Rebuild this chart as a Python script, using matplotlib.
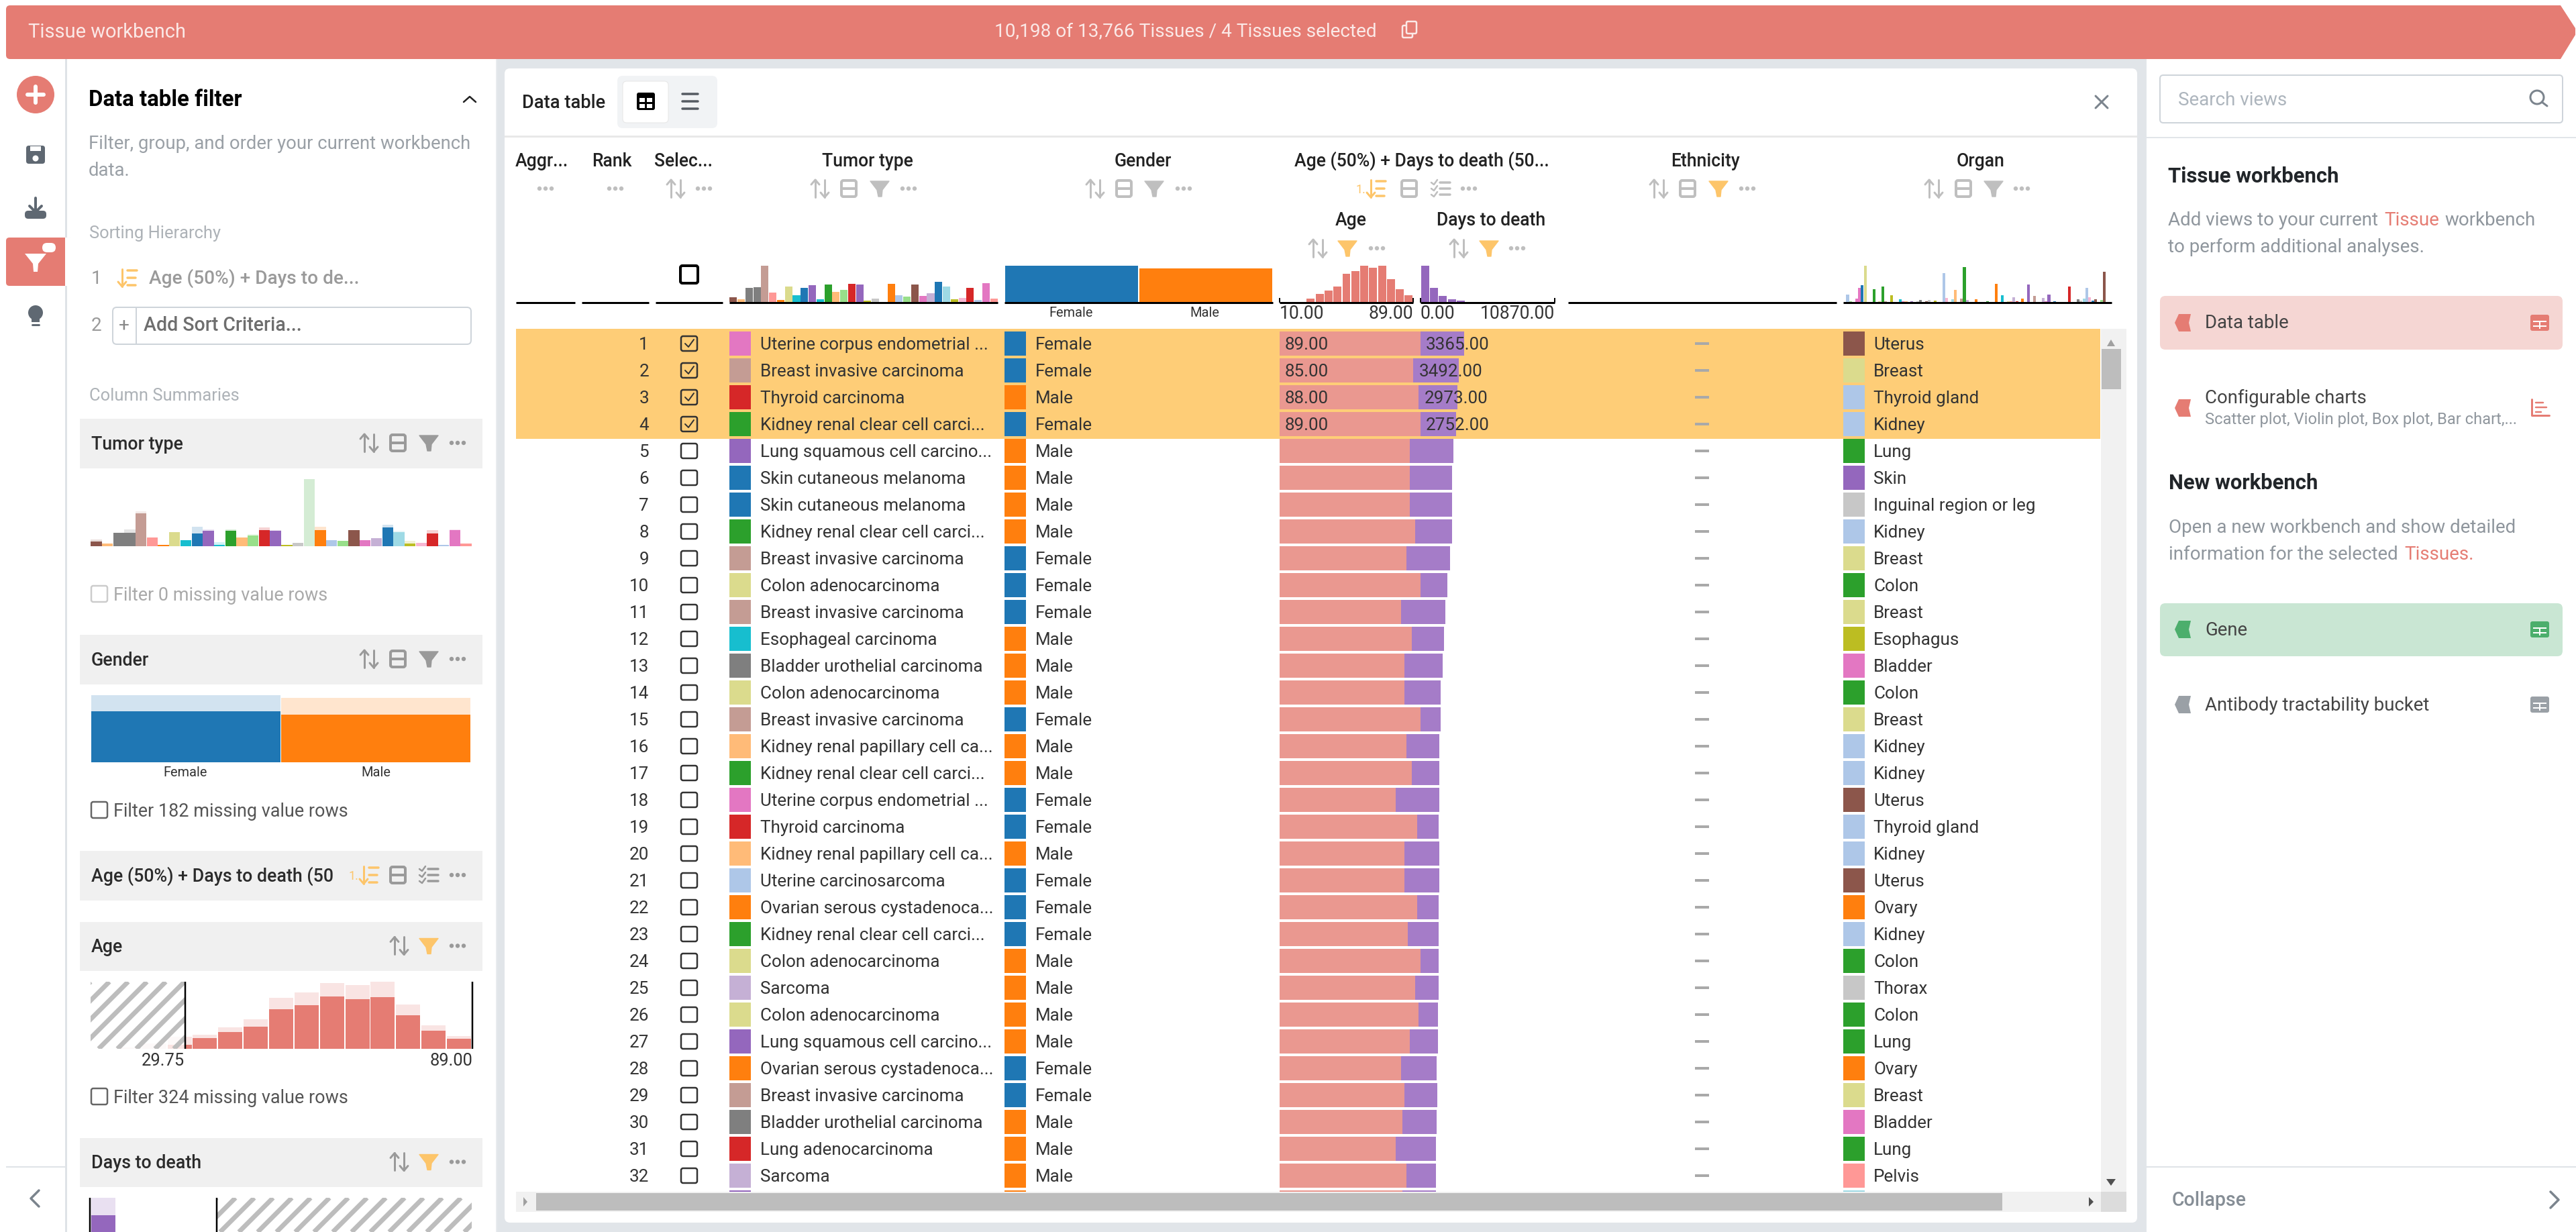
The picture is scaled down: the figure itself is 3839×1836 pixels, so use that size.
"""Tissue workbench screenshot rebuilt with matplotlib, laid out in screen pixels."""

import matplotlib

matplotlib.use("Agg")
import matplotlib.pyplot as plt
from matplotlib.patches import Circle, FancyBboxPatch, Polygon, Rectangle

W, H = 3839, 1836
plt.rcParams["font.family"] = ["Roboto", "DejaVu Sans"]

CORAL = "#e57c73"
GAP = "#e1e5e9"
HEAD = "#f0f0f0"
ORANGE = "#fecd77"
ICON_LIGHT = "#bfbfbf"
ICON_DARK = "#9a9a9a"

# tumor type histogram, shared bin colours
TUMOR_BIN_COLORS = [
    "#8c564b", "#ffbb78", "#7f7f7f", "#7f7f7f", "#c49c94", "#ff9896", "#ff7f0e", "#dbdb8d", "#17becf",
    "#1f77b4", "#9467bd", "#17becf", "#2ca02c", "#ffbb78", "#98df8a", "#d62728", "#9467bd", "#bcbd22",
    "#c7c7c7", "#2ca02c", "#ff7f0e", "#aec7e8", "#98df8a", "#8c564b", "#e377c2", "#c5b0d5", "#1f77b4",
    "#9edae5", "#bcbd22", "#f7b6d2", "#d62728", "#aec7e8", "#e377c2", "#ff9896",
]
TUMOR_TABLE = [20, 11, 59, 62, 151, 39, 8, 64, 28, 59, 70, 11, 73, 43, 50, 76, 73, 6, 14, 0, 76, 28, 22, 73, 25,
               36, 84, 64, 11, 17, 59, 8, 78, 14]
TUMOR_SIDE_MAIN = [12, 6, 34, 34, 83, 22, 3, 35, 15, 32, 39, 4, 39, 22, 27, 41, 39, 3, 8, 0, 41, 15, 13, 41, 15,
                   20, 47, 35, 6, 8, 32, 4, 41, 6]
TUMOR_SIDE_ALL = [17, 6, 34, 42, 89, 22, 3, 35, 15, 49, 42, 10, 42, 22, 30, 47, 41, 3, 8, 170, 49, 15, 13, 41, 15,
                  20, 54, 39, 14, 8, 41, 4, 43, 6]

GENDER_LABELS = ["Female", "Male"]
GENDER_COLORS = ["#1f77b4", "#ff7f0e"]
GENDER_TABLE = [54, 50]
GENDER_SIDE_MAIN = [76, 71]
GENDER_SIDE_ALL = [100, 96]

AGE_SIDE_MAIN = [0, 0, 0, 11, 28, 43, 57, 101, 112, 134, 127, 132, 86, 47, 26]
AGE_SIDE_ALL = [0, 4, 13, 31, 36, 55, 76, 130, 144, 168, 163, 171, 113, 60, 33]
AGE_TABLE = [0, 0, 0, 14, 34, 48, 64, 118, 129, 151, 143, 151, 96, 53, 28]
DAYS_TABLE = [151, 59, 25, 11, 6, 0, 0, 0, 0, 0, 0, 0, 0, 0, 0]
DAYS_SIDE_MAIN = [74, 28, 10, 5, 2, 0, 0, 0, 0, 0, 0, 0, 0, 0, 0]
DAYS_SIDE_ALL = [100, 40, 15, 7, 3, 0, 0, 0, 0, 0, 0, 0, 0, 0, 0]

# organ histogram: sparse bins out of 92
ORGAN_BINS = [1, 2, 4, 5, 6, 7, 10, 12, 13, 14, 16, 19, 20, 21, 23, 25, 26, 28, 29, 31, 34, 35, 37, 38, 40, 41, 42,
              45, 49, 52, 54, 56, 57, 58, 59, 61, 63, 65, 68, 69, 70, 72, 77, 80, 81, 82, 83, 84, 85, 86, 88, 89]
ORGAN_COUNTS = [33, 3, 15, 63, 75, 162, 57, 3, 69, 3, 30, 12, 3, 3, 3, 3, 9, 3, 9, 6, 129, 18, 12, 54, 15, 156, 9,
                12, 3, 81, 30, 3, 3, 21, 3, 15, 78, 27, 18, 3, 33, 3, 69, 12, 6, 15, 63, 21, 6, 12, 9, 135]
ORGAN_BIN_COLORS = [
    "#aec7e8", "#98df8a", "#e377c2", "#e377c2", "#1f77b4", "#dbdb8d", "#2ca02c", "#dbdb8d", "#2ca02c", "#c49c94",
    "#bcbd22", "#17becf", "#e377c2", "#ffbb78", "#9467bd", "#c7c7c7", "#7f7f7f", "#8c564b", "#c7c7c7", "#bcbd22",
    "#aec7e8", "#f7b6d2", "#9edae5", "#ffbb78", "#c49c94", "#2ca02c", "#c5b0d5", "#ff7f0e", "#2ca02c", "#ff7f0e",
    "#17becf", "#dbdb8d", "#ff9896", "#c5b0d5", "#d62728", "#ff7f0e", "#9467bd", "#c49c94", "#c5b0d5", "#e377c2",
    "#9467bd", "#1f77b4", "#d62728", "#7f7f7f", "#c7c7c7", "#9edae5", "#aec7e8", "#f7b6d2", "#1f77b4", "#8c564b",
    "#98df8a", "#8c564b",
]

# table rows
TUMOR_COLORS = {
    "Uterine corpus endometrial ...": "#e377c2", "Breast invasive carcinoma": "#c49c94",
    "Thyroid carcinoma": "#d62728", "Kidney renal clear cell carci...": "#2ca02c",
    "Lung squamous cell carcino...": "#9467bd", "Skin cutaneous melanoma": "#1f77b4",
    "Colon adenocarcinoma": "#dbdb8d", "Esophageal carcinoma": "#17becf",
    "Bladder urothelial carcinoma": "#7f7f7f", "Kidney renal papillary cell ca...": "#ffbb78",
    "Uterine carcinosarcoma": "#aec7e8", "Ovarian serous cystadenoca...": "#ff7f0e",
    "Sarcoma": "#c5b0d5", "Lung adenocarcinoma": "#d62728",
}
ORGAN_COLORS = {
    "Uterus": "#8c564b", "Breast": "#dbdb8d", "Thyroid gland": "#aec7e8", "Kidney": "#aec7e8", "Lung": "#2ca02c",
    "Skin": "#9467bd", "Inguinal region or leg": "#c7c7c7", "Colon": "#2ca02c", "Esophagus": "#bcbd22",
    "Bladder": "#e377c2", "Ovary": "#ff7f0e", "Thorax": "#c7c7c7", "Pelvis": "#ff9896",
}
TUMORS = [
    "Uterine corpus endometrial ...", "Breast invasive carcinoma", "Thyroid carcinoma",
    "Kidney renal clear cell carci...", "Lung squamous cell carcino...", "Skin cutaneous melanoma",
    "Skin cutaneous melanoma", "Kidney renal clear cell carci...", "Breast invasive carcinoma",
    "Colon adenocarcinoma", "Breast invasive carcinoma", "Esophageal carcinoma", "Bladder urothelial carcinoma",
    "Colon adenocarcinoma", "Breast invasive carcinoma", "Kidney renal papillary cell ca...",
    "Kidney renal clear cell carci...", "Uterine corpus endometrial ...", "Thyroid carcinoma",
    "Kidney renal papillary cell ca...", "Uterine carcinosarcoma", "Ovarian serous cystadenoca...",
    "Kidney renal clear cell carci...", "Colon adenocarcinoma", "Sarcoma", "Colon adenocarcinoma",
    "Lung squamous cell carcino...", "Ovarian serous cystadenoca...", "Breast invasive carcinoma",
    "Bladder urothelial carcinoma", "Lung adenocarcinoma", "Sarcoma", "Lung squamous cell carcino...",
]
GENDERS = ["Female", "Female", "Male", "Female", "Male", "Male", "Male", "Male", "Female", "Female", "Female",
           "Male", "Male", "Male", "Female", "Male", "Male", "Female", "Female", "Male", "Female", "Female",
           "Female", "Male", "Male", "Male", "Male", "Female", "Female", "Male", "Male", "Male", "Male"]
AGES = [89, 85, 88, 89, 83, 83, 83, 86, 81, 89, 78, 84, 80, 80, 89, 81, 84, 75, 87, 80, 80, 87, 82, 89, 86, 88, 83,
        78, 80, 79, 75, 81, 79]
DAYS = [3365, 3492, 2973, 2752, 3364, 3261, 3261, 2847, 3364, 2070, 3416, 2485, 2950, 2795, 1553, 2536, 2122, 3364,
        1656, 2692, 2692, 1656, 2381, 1398, 1812, 1501, 2174, 2743, 2536, 2640, 3106, 2278, 2588]
ORGANS = ["Uterus", "Breast", "Thyroid gland", "Kidney", "Lung", "Skin", "Inguinal region or leg", "Kidney", "Breast",
          "Colon", "Breast", "Esophagus", "Bladder", "Colon", "Breast", "Kidney", "Kidney", "Uterus", "Thyroid gland",
          "Kidney", "Uterus", "Ovary", "Kidney", "Colon", "Thorax", "Colon", "Lung", "Ovary", "Breast", "Bladder",
          "Lung", "Pelvis", "Skin"]
ORGAN_ROW_33_COLOR = "#9edae5"
SELECTED_ROWS = 4
AGE_MIN, AGE_MAX, DAYS_MAX = 10, 89, 10870

fig = plt.figure(figsize=(W / 100, (H + 0.01) / 100), dpi=100, facecolor="white")


def px_axes(x0, y0, x1, y1, zorder=2):
    ax = fig.add_axes([x0 / W, 1 - y1 / H, (x1 - x0) / W, (y1 - y0) / H], zorder=zorder)
    ax.axis("off")
    return ax


bg = px_axes(0, 0, W, H, zorder=0)
bg.set_xlim(0, W)
bg.set_ylim(H, 0)
fg = px_axes(0, 0, W, H, zorder=5)
fg.set_xlim(0, W)
fg.set_ylim(H, 0)


def txt(x, y, s, size, color="#333333", weight="normal", ha="left", ax=fg):
    # +2: va="center" sits a little above the css line centre
    return ax.text(x, y + 2, s, fontsize=size * 0.72, color=color, fontweight=weight, ha=ha, va="center")


def rect(ax, x0, y0, x1, y1, fc, ec="none", lw=0, z=1):
    ax.add_patch(Rectangle((x0, y0), x1 - x0, y1 - y0, fc=fc, ec=ec, lw=lw * 0.72, zorder=z))


def rrect(ax, x0, y0, x1, y1, r, fc="none", ec="none", lw=0, z=1):
    ax.add_patch(FancyBboxPatch((x0 + r, y0 + r), x1 - x0 - 2 * r, y1 - y0 - 2 * r, boxstyle=f"round,pad={r}",
                                fc=fc, ec=ec, lw=lw * 0.72, zorder=z))


def line(ax, xs, ys, color, lw=3, z=3, cap="round"):
    ax.plot(xs, ys, color=color, lw=lw * 0.72, zorder=z, solid_capstyle=cap, solid_joinstyle="round")


def dots_icon(x, y, color=ICON_LIGHT, ax=fg):
    for dx in (-9, 0, 9):
        ax.add_patch(Circle((x + dx, y), 3.2, fc=color, ec="none", zorder=3))


def sort_icon(x, y, color=ICON_LIGHT, ax=fg):
    line(ax, [x - 7, x - 7], [y - 13, y + 13], color)
    line(ax, [x - 13, x - 7, x - 1], [y - 6, y - 13, y - 6], color)
    line(ax, [x + 7, x + 7], [y - 13, y + 13], color)
    line(ax, [x + 1, x + 7, x + 13], [y + 6, y + 13, y + 6], color)


def layout_icon(x, y, color=ICON_LIGHT, ax=fg):
    rrect(ax, x - 11, y - 12, x + 11, y + 12, 3, ec=color, lw=4, z=3)
    line(ax, [x - 11, x + 11], [y, y], color, lw=4)


def funnel_icon(x, y, color=ICON_LIGHT, ax=fg):
    ax.add_patch(Polygon([(x - 14, y - 11), (x + 14, y - 11), (x + 4, y + 2), (x + 3, y + 12), (x - 2, y + 12),
                          (x - 4, y + 2)], fc=color, ec=color, lw=1, joinstyle="round", zorder=3))


def checklist_icon(x, y, color=ICON_LIGHT, ax=fg):
    for dy in (-9, 0, 9):
        line(ax, [x - 1, x + 14], [y + dy, y + dy], color, lw=3.5)
        line(ax, [x - 14, x - 10, x - 5], [y + dy, y + dy + 3, y + dy - 4], color, lw=2.5)


def sorted_icon(x, y, color="#fdc56a", ax=fg, prefix=False):
    line(ax, [x - 7, x - 7], [y - 13, y + 13], color)
    line(ax, [x - 13, x - 7, x - 1], [y + 6, y + 13, y + 6], color)
    line(ax, [x + 1, x + 15], [y - 11, y - 11], color, lw=3.5)
    line(ax, [x + 1, x + 13], [y, y], color, lw=3.5)
    line(ax, [x + 1, x + 13], [y + 11, y + 11], color, lw=3.5)
    if prefix:
        txt(x - 15, y, "1.", 18, color, ha="right", ax=ax)


def tag_icon(x, y, color):
    fg.add_patch(Polygon([(x + 12, y - 13), (x - 6, y - 13), (x - 12, y), (x - 6, y + 13), (x + 12, y + 13),
                          (x + 9, y)], fc=color, ec="none", zorder=3))


def grid_icon(x, y, color):
    rrect(fg, x - 14, y - 12, x + 14, y + 12, 3, fc=color, z=3)
    line(fg, [x - 10, x + 10], [y - 2, y - 2], "white", lw=2, cap="butt", z=4)
    line(fg, [x - 10, x + 10], [y + 5, y + 5], "white", lw=2, cap="butt", z=4)
    line(fg, [x, x], [y - 2, y + 9], "white", lw=2, cap="butt", z=4)


def hatch_box(x0, y0, x1, y1):
    # diagonal stripes, clipped to the filtered-out part of a histogram
    clip = Rectangle((x0, y0), x1 - x0, y1 - y0, transform=fg.transData)
    span = y1 - y0
    start = x0 - span
    while start < x1 + span:
        stripe, = fg.plot([start, start + span], [y1, y0], color="#bdbdbd", lw=7 * 0.72, zorder=2,
                          solid_capstyle="butt")
        stripe.set_clip_path(clip)
        start += 28


def side_histogram(x0, y0, x1, y1, main, total, colors, top, width=0.95):
    ax = px_axes(x0, y0, x1, y1)
    ax.set_xlim(-0.5, len(main) - 0.5)
    ax.set_ylim(0, top)
    ax.bar(range(len(total)), total, width=width, color=colors, alpha=0.2, linewidth=0)
    ax.bar(range(len(main)), main, width=width, color=colors, linewidth=0)
    return ax


def table_histogram(x0, x1, counts, colors, width=0.9):
    ax = px_axes(x0, 396, x1, 450)
    ax.set_xlim(-0.5, len(counts) - 0.5)
    ax.set_ylim(0, max(counts))
    ax.bar(range(len(counts)), counts, width=width, color=colors, linewidth=0)
    return ax


def row_axes(x0, x1):
    # y data is the row index, row 0 centred on pixel 512, rows 40 px apart
    ax = px_axes(x0, 490, x1, 1776, zorder=2)
    ax.set_ylim((1776 - 512) / 40, (490 - 512) / 40)
    return ax


def section_header(y0, y1, title, kind):
    rect(bg, 119, y0, 719, y1, HEAD)
    cy = (y0 + y1) / 2 - 1
    label = txt(136, cy, title, 26.7, "#2b2b2b", weight="medium")
    # long titles are cut before the header icons
    label.set_clip_path(Rectangle((136, y0), 353, y1 - y0, transform=fg.transData))
    if kind == "cat":
        sort_icon(550, cy, ICON_DARK)
        layout_icon(593, cy, ICON_DARK)
        funnel_icon(639, cy, ICON_DARK)
    elif kind == "num":
        sort_icon(595, cy, ICON_DARK)
        funnel_icon(639, cy, "#fdc56a")
    else:
        sorted_icon(549, cy, prefix=True)
        layout_icon(593, cy, ICON_DARK)
        checklist_icon(639, cy, ICON_DARK)
    dots_icon(682, cy, ICON_DARK)


def filter_row(y, label, color="#555555", edge="#666666"):
    rrect(fg, 136, y - 12, 160, y + 12, 3, ec=edge, lw=2.5, z=3)
    txt(169, y, label, 27, color)


def draw_frame():
    rect(bg, 739, 88, 3199, H, GAP)
    rrect(bg, 752, 102, 3185, 1822, 8, fc="white")
    rect(bg, 97, 88, 100, H, "#dfe3e7")
    rect(bg, 739, 88, 741, H, "#e8ebee")
    rect(bg, 752, 202, 3185, 205, "#e8e8e8")
    # top banner with arrow tip
    rrect(bg, 9, 8, 200, 88, 6, fc=CORAL)
    bg.add_patch(Polygon([(60, 8), (3816, 8), (3838, 42), (3838, 52), (3816, 88), (60, 88)], fc=CORAL, ec="none"))
    txt(42, 46, "Tissue workbench", 29, "#fbe9e7")
    txt(1767, 46, "10,198 of 13,766 Tissues / 4 Tissues selected", 28, "#fbe9e7", ha="center")
    rrect(fg, 2090, 38, 2105, 56, 2, ec="#fbe9e7", lw=2.5, z=3)
    rrect(fg, 2096, 32, 2111, 50, 2, fc=CORAL, ec="#fbe9e7", lw=2.5, z=4)


def draw_left_rail():
    fg.add_patch(Circle((53, 141), 28, fc=CORAL, ec="none"))
    line(fg, [41, 65], [141, 141], "white", lw=6)
    line(fg, [53, 53], [129, 153], "white", lw=6)
    # save
    rrect(fg, 39, 217, 67, 244, 4, fc="#5f6872", z=3)
    rect(fg, 45, 218, 61, 225, "white", z=4)
    fg.add_patch(Circle((53, 236), 4.5, fc="white", ec="none", zorder=4))
    # download
    rrect(fg, 37, 314, 69, 326, 5, fc="#5f6872", z=3)
    line(fg, [53, 53], [295, 316], "#5f6872", lw=4)
    line(fg, [44, 53, 62], [307, 316, 307], "#5f6872", lw=4)
    # active filter tab
    rrect(bg, 9, 354, 110, 426, 5, fc=CORAL)
    rect(bg, 97, 354, 120, 426, "white")
    fg.add_patch(Polygon([(37, 378), (69, 378), (57, 393), (56, 405), (50, 405), (49, 393)], fc="white", ec="none"))
    rrect(fg, 63, 362, 83, 376, 7, fc="white", z=3)
    # bulb
    fg.add_patch(Circle((53, 466), 11, fc="#5f6872", ec="none"))
    rect(fg, 47, 474, 59, 480, "#5f6872", z=3)
    line(fg, [48, 58], [484, 484], "#5f6872", lw=3)
    # bottom
    rect(bg, 9, 1738, 97, 1740, "#dfe3e7")
    line(fg, [58, 46, 58], [1774, 1786, 1798], "#7b848d", lw=3.5)


def draw_filter_panel():
    txt(132, 147, "Data table filter", 33, "black", weight="bold")
    line(fg, [691, 700, 709], [152, 144, 152], "#222222", lw=2.5)
    txt(132, 212, "Filter, group, and order your current workbench", 27.5, "#9aa0a6")
    txt(132, 252, "data.", 27.5, "#9aa0a6")
    txt(133, 346, "Sorting Hierarchy", 25.5, "#adb2b7")
    txt(136, 413, "1", 28, "#9a9a9a")
    sorted_icon(189, 414)
    txt(222, 413, "Age (50%) + Days to de...", 28, "#9a9a9a", weight="medium")
    txt(136, 483, "2", 28, "#9a9a9a")
    rrect(fg, 168, 458, 702, 513, 6, ec="#ced4da", lw=2, z=3)
    line(fg, [203, 203], [458, 513], "#ced4da", lw=2)
    txt(185, 483, "+", 28, "#888888", ha="center")
    txt(214, 483, "Add Sort Criteria...", 28.5, "#6e6e6e", weight="medium")
    txt(133, 588, "Column Summaries", 25.5, "#adb2b7")

    section_header(624, 698, "Tumor type", "cat")
    side_histogram(135, 714, 703, 814, TUMOR_SIDE_MAIN, TUMOR_SIDE_ALL, TUMOR_BIN_COLORS, 170, width=0.98)
    filter_row(885, "Filter 0 missing value rows", "#a9a9a9", "#cccccc")

    section_header(946, 1020, "Gender", "cat")
    side_histogram(135, 1036, 702, 1136, GENDER_SIDE_MAIN, GENDER_SIDE_ALL, GENDER_COLORS, 100, width=0.993)
    txt(276, 1149, GENDER_LABELS[0], 20, "#333333", ha="center")
    txt(560, 1149, GENDER_LABELS[1], 20, "#333333", ha="center")
    filter_row(1207, "Filter 182 missing value rows")

    section_header(1268, 1342, "Age (50%) + Days to death (50", "combo")

    section_header(1374, 1447, "Age", "num")
    side_histogram(135, 1463, 703, 1563, AGE_SIDE_MAIN, AGE_SIDE_ALL, [CORAL] * 15, 171)
    rect(fg, 135, 1463, 275, 1563, (1, 1, 1, 0.8), z=1)
    hatch_box(135, 1463, 275, 1563)
    line(fg, [276, 276], [1463, 1563], "black", lw=2.5, cap="butt")
    line(fg, [704, 704], [1463, 1563], "black", lw=2.5, cap="butt")
    txt(275, 1579, "29.75", 25.5, "#333333", ha="right")
    txt(704, 1579, "89.00", 25.5, "#333333", ha="right")
    filter_row(1634, "Filter 324 missing value rows")

    section_header(1696, 1769, "Days to death", "num")
    side_histogram(135, 1785, 703, 1885, DAYS_SIDE_MAIN, DAYS_SIDE_ALL, ["#9467bd"] * 15, 100)
    hatch_box(323, 1785, 703, 1836)
    line(fg, [134, 134], [1785, 1836], "black", lw=2.5, cap="butt")
    line(fg, [323, 323], [1785, 1836], "black", lw=2.5, cap="butt")


def draw_table_header():
    txt(778, 151, "Data table", 27.3, "#222222", weight="medium")
    rrect(bg, 920, 113, 1069, 191, 8, fc="#f1f3f5")
    rrect(bg, 928, 121, 996, 183, 6, fc="white", ec="#e6e6e6", lw=1)
    # table view toggle: black frame with four cells
    rrect(fg, 949, 138, 976, 164, 3, fc="black", z=3)
    for cx0, cx1 in ((953, 961), (964, 972)):
        for cy0, cy1 in ((146, 152), (155, 161)):
            rect(fg, cx0, cy0, cx1, cy1, "white", z=4)
    for dy in (-11, 0, 11):
        line(fg, [1017, 1040], [151 + dy, 151 + dy], "#555b62", lw=3.5)
    line(fg, [3123, 3141], [143, 161], "#7b848d", lw=3)
    line(fg, [3123, 3141], [161, 143], "#7b848d", lw=3)

    titles = [("Aggr...", 807), ("Rank", 912), ("Selec...", 1019), ("Tumor type", 1293), ("Gender", 1703),
              ("Age (50%) + Days to death (50...", 2119), ("Ethnicity", 2542), ("Organ", 2952)]
    for label, x in titles:
        txt(x, 238, label, 26.5, "#222222", weight="medium", ha="center")
    txt(2013, 326, "Age", 26.5, "#222222", weight="medium", ha="center")
    txt(2222, 326, "Days to death", 26.5, "#222222", weight="medium", ha="center")

    y = 281
    for x in (813, 917, 1049, 1354, 1764, 2189, 2604, 3013):
        dots_icon(x, y)
    for x in (1007, 1222, 1632, 2472, 2882):
        sort_icon(x, y)
    for x in (1265, 1675, 2100, 2515, 2926):
        layout_icon(x, y)
    for x in (1311, 1720, 2971):
        funnel_icon(x, y)
    funnel_icon(2561, y, "#fdc56a")
    sorted_icon(2050, y, prefix=True)
    checklist_icon(2147, y)
    sort_icon(1964, 370)
    funnel_icon(2008, 370, "#fdc56a")
    dots_icon(2052, 370)
    sort_icon(2174, 370)
    funnel_icon(2219, 370, "#fdc56a")
    dots_icon(2261, 370)

    for x0, x1 in [(769, 857), (867, 967), (977, 1077), (1087, 1487), (1497, 1897), (1907, 2106), (2117, 2317),
                   (2337, 2737), (2747, 3147)]:
        line(fg, [x0, x1], [451, 451], "black", lw=3, cap="butt")
    for x in (1907, 2106, 2117, 2317):
        line(fg, [x, x], [444, 451], "black", lw=2, cap="butt")
    rrect(fg, 1014, 396, 1040, 422, 3, ec="black", lw=4, z=3)

    table_histogram(1087, 1487, TUMOR_TABLE, TUMOR_BIN_COLORS, width=0.94)
    table_histogram(1497, 1897, GENDER_TABLE, GENDER_COLORS, width=0.99)
    txt(1596, 464, GENDER_LABELS[0], 20, "#333333", ha="center")
    txt(1795, 464, GENDER_LABELS[1], 20, "#333333", ha="center")
    table_histogram(1907, 2106, AGE_TABLE, [CORAL] * 15)
    table_histogram(2117, 2317, DAYS_TABLE, ["#9467bd"] * 15)

    ax = px_axes(2747, 396, 3147, 450)
    ax.set_xlim(-0.5, 91.5)
    ax.set_ylim(0, max(ORGAN_COUNTS))
    ax.bar(ORGAN_BINS, ORGAN_COUNTS, width=0.95, color=ORGAN_BIN_COLORS, linewidth=0)

    txt(1907, 465, "10.00", 26.5, "#333333")
    txt(2106, 465, "89.00", 26.5, "#333333", ha="right")
    txt(2117, 465, "0.00", 26.5, "#333333")
    txt(2317, 465, "10870.00", 26.5, "#333333", ha="right")


def draw_table_rows():
    rect(bg, 769, 490, 3130, 654, ORANGE)
    rows = list(range(len(TUMORS)))

    tumor_ax = row_axes(1087, 1119)
    tumor_ax.set_xlim(0, 1)
    tumor_ax.barh(rows, 1, height=0.9, color=[TUMOR_COLORS[t] for t in TUMORS], linewidth=0)

    gender_ax = row_axes(1497, 1529)
    gender_ax.set_xlim(0, 1)
    gender_ax.barh(rows, 1, height=0.9, color=[GENDER_COLORS[GENDER_LABELS.index(g)] for g in GENDERS], linewidth=0)

    organ_ax = row_axes(2747, 2779)
    organ_ax.set_xlim(0, 1)
    organ_colors = [ORGAN_COLORS[o] for o in ORGANS[:-1]] + [ORGAN_ROW_33_COLOR]
    organ_ax.barh(rows, 1, height=0.9, color=organ_colors, linewidth=0)

    # stacked score bar, both columns get half of the 420 px
    stack_ax = row_axes(1907, 2327)
    stack_ax.set_xlim(0, 2)
    age_norm = [(a - AGE_MIN) / (AGE_MAX - AGE_MIN) for a in AGES]
    days_norm = [d / DAYS_MAX for d in DAYS]
    stack_ax.barh(rows, age_norm, height=0.9, color="#ea9890", linewidth=0)
    stack_ax.barh(rows, days_norm, left=age_norm, height=0.9, color="#a57cc8", linewidth=0)

    for i in rows[:32]:
        y = 512 + 40 * i
        txt(967, y, str(i + 1), 26, "#333333", ha="right")
        rrect(fg, 1015, y - 11, 1039, y + 11, 3, ec="#333333", lw=2.5, z=3)
        txt(1133, y, TUMORS[i], 26, "#333333")
        txt(1543, y, GENDERS[i], 26, "#333333")
        rect(fg, 2526, y - 2, 2547, y + 2, "#a9a9a9", z=3)
        txt(2792, y, ORGANS[i], 26, "#333333")
        if i < SELECTED_ROWS:
            line(fg, [1021, 1026, 1034], [y, y + 5, y - 6], "#333333", lw=2)
            txt(1915, y, f"{AGES[i]:.2f}", 26, "#333333")
            txt(1907 + age_norm[i] * 210 + 8, y, f"{DAYS[i]:.2f}", 26, "#333333")

    # scroll bars
    rect(fg, 3131, 490, 3169, 1776, "#f1f1f1", z=2)
    rect(fg, 3131, 1776, 3169, 1806, "#dcdcdc", z=2)
    rect(fg, 769, 1776, 3131, 1806, "#f1f1f1", z=2)
    rect(fg, 799, 1778, 2984, 1804, "#bdbdbd", z=3)
    rect(fg, 3132, 520, 3161, 580, "#bdbdbd", z=3)
    fg.add_patch(Polygon([(3146, 506), (3140, 516), (3152, 516)], fc="#a0a0a0", ec="none", zorder=3))
    fg.add_patch(Polygon([(3139, 1757), (3153, 1757), (3146, 1767)], fc="#505050", ec="none", zorder=3))
    fg.add_patch(Polygon([(786, 1791), (780, 1784), (780, 1798)], fc="#a0a0a0", ec="none", zorder=3))
    fg.add_patch(Polygon([(3120, 1791), (3113, 1784), (3113, 1798)], fc="#505050", ec="none", zorder=3))


def draw_right_panel():
    rect(bg, 3199, 88, W, H, "white")
    rrect(fg, 3219, 112, 3819, 183, 5, ec="#ced4da", lw=2, z=3)
    txt(3246, 147, "Search views", 27.7, "#adb5bd")
    fg.add_patch(Circle((3781, 145), 10, fc="none", ec="#7b848d", lw=3 * 0.72, zorder=3))
    line(fg, [3788, 3796], [152, 158], "#7b848d", lw=3)
    rect(bg, 3199, 204, W, 206, "#e1e5e9")

    txt(3231, 261, "Tissue workbench", 31, "#212529", weight="bold")
    txt(3231, 326, "Add views to your current", 27.8, "#8f969d")
    txt(3553, 326, "Tissue", 27.8, CORAL)
    txt(3643, 326, "workbench", 27.8, "#8f969d")
    txt(3231, 366, "to perform additional analyses.", 27.8, "#8f969d")

    rrect(bg, 3219, 441, 3819, 521, 8, fc="#f5d6d3")
    tag_icon(3253, 481, CORAL)
    txt(3286, 479, "Data table", 27.5, "#444444")
    grid_icon(3785, 481, CORAL)

    tag_icon(3253, 608, CORAL)
    txt(3286, 591, "Configurable charts", 27.5, "#444444")
    txt(3286, 623, "Scatter plot, Violin plot, Box plot, Bar chart,...", 23.7, "#8f969d")
    line(fg, [3773, 3773, 3799], [595, 619, 619], CORAL, lw=3)
    line(fg, [3779, 3790], [600, 600], CORAL, lw=2.5)
    line(fg, [3779, 3795], [607, 607], CORAL, lw=2.5)
    line(fg, [3779, 3787], [614, 614], CORAL, lw=2.5)

    txt(3232, 718, "New workbench", 31, "#212529", weight="bold")
    txt(3232, 784, "Open a new workbench and show detailed", 27.8, "#8f969d")
    txt(3232, 824, "information for the selected", 27.8, "#8f969d")
    txt(3583, 824, "Tissues.", 27.8, CORAL)

    rrect(bg, 3219, 899, 3819, 978, 8, fc="#c9e6d3")
    tag_icon(3253, 938, "#4cae6c")
    txt(3286, 937, "Gene", 27.5, "#444444")
    grid_icon(3785, 938, "#4cae6c")

    tag_icon(3253, 1050, "#9aa0a6")
    txt(3286, 1049, "Antibody tractability bucket", 27.5, "#444444")
    grid_icon(3785, 1050, "#9aa0a6")

    rect(bg, 3199, 1738, W, 1740, "#dfe3e7")
    txt(3237, 1787, "Collapse", 28.5, "#868e96", weight="medium")
    line(fg, [3801, 3813, 3801], [1776, 1788, 1800], "#7b848d", lw=3.5)


def main():
    draw_frame()
    draw_left_rail()
    draw_filter_panel()
    draw_table_header()
    draw_table_rows()
    draw_right_panel()
    fig.savefig("out.png", dpi=100)


if __name__ == "__main__":
    main()
